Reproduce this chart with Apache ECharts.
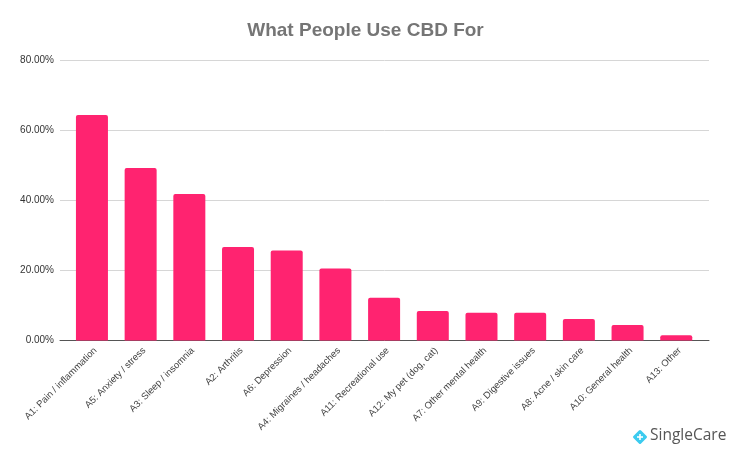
<!DOCTYPE html>
<html><head><meta charset="utf-8">
<style>html,body{margin:0;padding:0;background:#fff}#c{width:731px;height:452px}</style>
<script src="https://cdn.jsdelivr.net/npm/echarts@6/dist/echarts.min.js"></script>
</head><body><div id="c"></div>
<script>
const categories = ["A1: Pain / inflammation","A5: Anxiety / stress","A3: Sleep / insomnia","A2: Arthritis","A6: Depression","A4: Migraines / headaches","A11: Recreational use","A12: My pet (dog, cat)","A7: Other mental health","A9: Digestive issues","A8: Acne / skin care","A10: General health","A13: Other"];
const values = [64.3,49.2,41.8,26.7,25.7,20.5,12.2,8.4,7.9,7.9,6.1,4.4,1.5];
const chartTitle = "What People Use CBD For";
const brand = "SingleCare";
const font = "'Liberation Sans', Arial, sans-serif";
const chart = echarts.init(document.getElementById('c'), null, {renderer:'canvas'});
chart.setOption({
  animation:false,
  backgroundColor:'#fff',
  title:{text:chartTitle,left:'center',top:16,textStyle:{fontFamily:font,fontSize:19,fontWeight:'bold',color:'#757575'}},
  grid:[
    {left:60,right:22,top:60,height:280.5},
    {left:67.6,right:30.4,top:60,height:280.5}
  ],
  xAxis:[
    {type:'category',gridIndex:0,data:[''],axisTick:{show:false},axisLabel:{show:false},axisLine:{lineStyle:{color:'#555',width:1}}},
    {type:'category',gridIndex:1,data:categories,axisTick:{show:false},axisLine:{show:false},
     axisLabel:{interval:0,rotate:45,margin:5,verticalAlign:'top',fontFamily:font,fontSize:9.5,color:'#444'}}
  ],
  yAxis:[
    {type:'value',gridIndex:0,min:0,max:80,interval:20,
     axisLine:{show:false},axisTick:{show:false},
     axisLabel:{margin:6,fontFamily:font,fontSize:10,color:'#333',formatter:v=>v.toFixed(2)+'%'},
     splitLine:{lineStyle:{color:'#d6d6d6',width:1}}},
    {type:'value',gridIndex:1,min:0,max:80,interval:20,show:false,splitLine:{show:false}}
  ],
  series:[{type:'bar',xAxisIndex:1,yAxisIndex:1,data:values,barWidth:32,
    itemStyle:{color:'#FF2370',borderRadius:[2,2,0,0]}}],
  graphic:[
    {type:'group',left:633,top:430,children:[
      {type:'polygon',shape:{points:[[7,1.5],[12.5,7],[7,12.5],[1.5,7]]},style:{fill:'#3CCBEF',stroke:'#3CCBEF',lineWidth:3,lineJoin:'round'}},
      {type:'rect',shape:{x:6.2,y:4,width:1.6,height:6},style:{fill:'#fff'}},
      {type:'rect',shape:{x:4,y:6.2,width:6,height:1.6},style:{fill:'#fff'}}
    ]},
    {type:'text',left:650,top:428,style:{text:brand,fontFamily:"'Open Sans', Arial, sans-serif",fontSize:15.5,fontWeight:500,fill:'#555'}}
  ]
});
</script></body></html>
